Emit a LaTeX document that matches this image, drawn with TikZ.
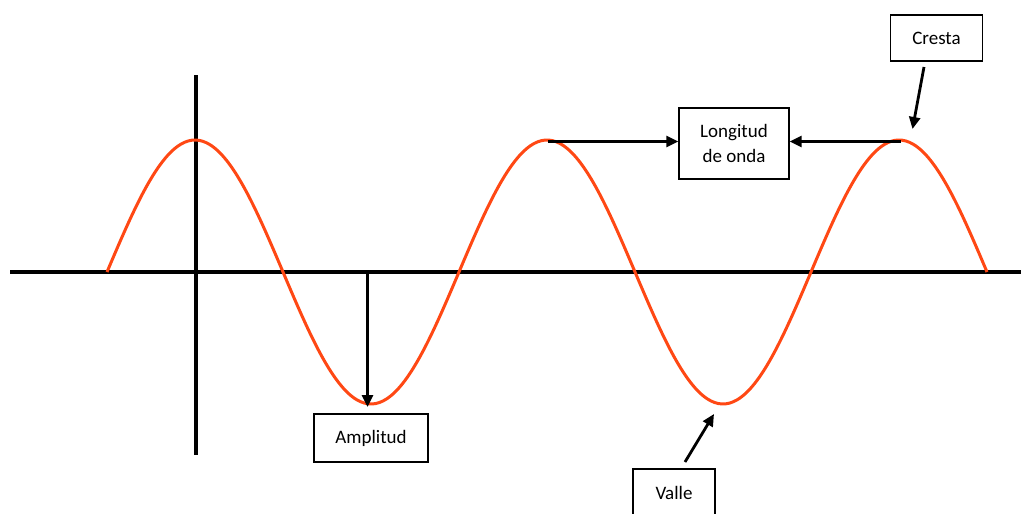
\documentclass[tikz,border=0pt]{standalone}
\usepackage{fontspec}
\setmainfont{Carlito}
\usepackage{xcolor}
\usetikzlibrary{arrows.meta,positioning,calc}

\definecolor{waveorange}{RGB}{255,72,20}

\begin{document}
\begin{tikzpicture}[
    x=1pt, y=-1pt,
    labelbox/.style={rectangle, draw, line width=1.3pt, fill=white, align=center, font=\fontsize{19}{25}\selectfont, inner sep=0pt},
    axisline/.style={line width=4pt},
    wave/.style={draw=waveorange, line width=3pt},
    pointer/.style={-{Triangle[length=12pt, width=11pt]}, line width=2.8pt},
]
    \clip (0,0) rectangle (1021,514);

    % axes
    \coordinate (xl) at (10,272);
    \coordinate (xr) at (1021,272);
    \coordinate (yt) at (196,75);
    \coordinate (yb) at (196,455);
    \draw[axisline] (xl) -- (xr);
    \draw[axisline] (yt) -- (yb);

    % wave
    \draw[wave] plot[domain=0:880, samples=240, smooth] ({107+\x}, {272-132*sin(\x/352*360)});

    % labels
    \node[labelbox, minimum width=92pt, minimum height=46pt] (cresta) at (936.5,38) {Cresta};
    \node[labelbox, minimum width=110pt, minimum height=71pt] (longitud) at (734,143.5) {Longitud\\de onda};
    \node[labelbox, minimum width=114pt, minimum height=48pt] (amplitud) at (371,438) {Amplitud};
    \node[labelbox, minimum width=82pt, minimum height=48pt] (valle) at (674,493) {Valle};

    % arrow ends
    \coordinate (crest1) at (548,141.5);
    \coordinate (crest2) at (901,141.5);
    \coordinate (crestfrom) at (924,67);
    \coordinate (crestto) at (912.5,129);
    \coordinate (ampfrom) at (367.5,274);
    \coordinate (ampto) at (367.5,407);
    \coordinate (vallefrom) at (685,462);
    \coordinate (valleto) at (714,414);

    \draw[pointer] (crest1) -- (crest1 -| longitud.west);
    \draw[pointer] (crest2) -- (crest2 -| longitud.east);
    \draw[pointer] (crestfrom) -- (crestto);
    \draw[pointer] (ampfrom) -- (ampto);
    \draw[pointer] (vallefrom) -- (valleto);
\end{tikzpicture}
\end{document}
